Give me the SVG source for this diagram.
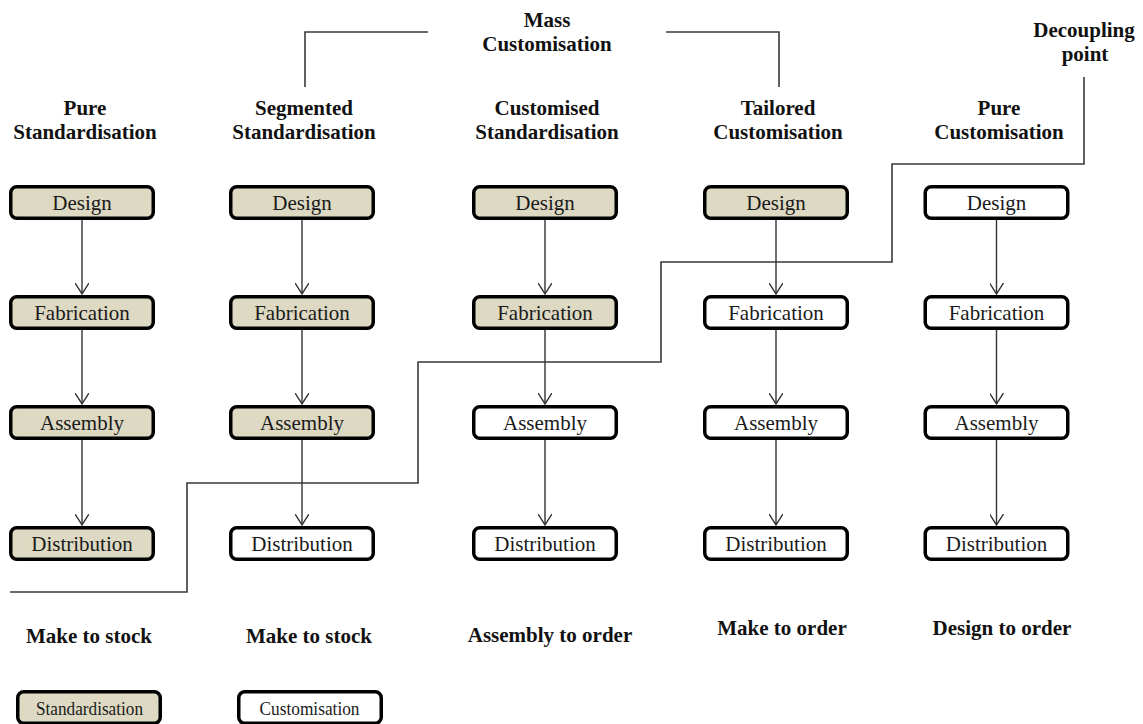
<svg xmlns="http://www.w3.org/2000/svg" width="1143" height="724" viewBox="0 0 1143 724">
  <style>
    .box rect { stroke: #000; stroke-width: 3.5; }
    .std rect { fill: #DDD9C3; }
    .cus rect { fill: #FFFFFF; }
    .box text { font-size: 21px; fill: #1a1a1a; text-anchor: middle; }
    .head { font-size: 21px; font-weight: bold; fill: #111; text-anchor: middle; }
    .legend text { font-size: 19px; }
    .flow { stroke: #333; stroke-width: 1.4; fill: none; }
    .guide { stroke: #3a3a3a; stroke-width: 1.6; fill: none; }
  </style>
  <defs>
    <marker id="arrow" markerWidth="18" markerHeight="14" refX="11" refY="7" orient="auto" markerUnits="userSpaceOnUse">
      <path d="M0,0 L11,7 L0,14" fill="none" stroke="#333" stroke-width="1.4"/>
    </marker>
  </defs>
  <rect width="1143" height="724" fill="#fff"/>

  <g font-family="'Liberation Serif', 'Times New Roman', Times, 'DejaVu Serif', serif">
  <!-- column headings -->
  <g id="headings">
    <text class="head" x="85" y="115">Pure</text>
    <text class="head" x="85" y="139">Standardisation</text>
    <text class="head" x="304" y="115">Segmented</text>
    <text class="head" x="304" y="139">Standardisation</text>
    <text class="head" x="547" y="115">Customised</text>
    <text class="head" x="547" y="139">Standardisation</text>
    <text class="head" x="778" y="115">Tailored</text>
    <text class="head" x="778" y="139">Customisation</text>
    <text class="head" x="999" y="115">Pure</text>
    <text class="head" x="999" y="139">Customisation</text>
    <text class="head" x="547" y="27">Mass</text>
    <text class="head" x="547" y="51">Customisation</text>
    <text class="head" x="1084" y="37">Decoupling</text>
    <text class="head" x="1085" y="61">point</text>
  </g>

  <!-- connectors -->
  <g id="connectors">
    <!-- Mass Customisation bracket -->
    <path class="guide" d="M305,87 V32 H428"/>
    <path class="guide" d="M666,32 H779 V87"/>
    <!-- decoupling point staircase -->
    <path class="guide" d="M1084,77 V164 H892 V262 H661 V362 H418 V483 H187 V592 H10"/>
    <!-- process flows -->
    <g marker-end="url(#arrow)">
      <line class="flow" x1="82" y1="220" x2="82" y2="294"/>
      <line class="flow" x1="82" y1="330" x2="82" y2="404"/>
      <line class="flow" x1="82" y1="440" x2="82" y2="525"/>
      <line class="flow" x1="302" y1="220" x2="302" y2="294"/>
      <line class="flow" x1="302" y1="330" x2="302" y2="404"/>
      <line class="flow" x1="302" y1="440" x2="302" y2="525"/>
      <line class="flow" x1="545" y1="220" x2="545" y2="294"/>
      <line class="flow" x1="545" y1="330" x2="545" y2="404"/>
      <line class="flow" x1="545" y1="440" x2="545" y2="525"/>
      <line class="flow" x1="776" y1="220" x2="776" y2="294"/>
      <line class="flow" x1="776" y1="330" x2="776" y2="404"/>
      <line class="flow" x1="776" y1="440" x2="776" y2="525"/>
      <line class="flow" x1="996.5" y1="220" x2="996.5" y2="294"/>
      <line class="flow" x1="996.5" y1="330" x2="996.5" y2="404"/>
      <line class="flow" x1="996.5" y1="440" x2="996.5" y2="525"/>
    </g>
  </g>

  <!-- Pure Standardisation -->
  <g id="ps-design" class="box std"><rect x="10.75" y="186.75" width="142.5" height="31.5" rx="6"/><text x="82" y="210">Design</text></g>
  <g id="ps-fabrication" class="box std"><rect x="10.75" y="296.75" width="142.5" height="31.5" rx="6"/><text x="82" y="320">Fabrication</text></g>
  <g id="ps-assembly" class="box std"><rect x="10.75" y="406.75" width="142.5" height="31.5" rx="6"/><text x="82" y="430">Assembly</text></g>
  <g id="ps-distribution" class="box std"><rect x="10.75" y="527.75" width="142.5" height="31.5" rx="6"/><text x="82" y="551">Distribution</text></g>

  <!-- Segmented Standardisation -->
  <g id="ss-design" class="box std"><rect x="230.75" y="186.75" width="142.5" height="31.5" rx="6"/><text x="302" y="210">Design</text></g>
  <g id="ss-fabrication" class="box std"><rect x="230.75" y="296.75" width="142.5" height="31.5" rx="6"/><text x="302" y="320">Fabrication</text></g>
  <g id="ss-assembly" class="box std"><rect x="230.75" y="406.75" width="142.5" height="31.5" rx="6"/><text x="302" y="430">Assembly</text></g>
  <g id="ss-distribution" class="box cus"><rect x="230.75" y="527.75" width="142.5" height="31.5" rx="6"/><text x="302" y="551">Distribution</text></g>

  <!-- Customised Standardisation -->
  <g id="cs-design" class="box std"><rect x="473.75" y="186.75" width="142.5" height="31.5" rx="6"/><text x="545" y="210">Design</text></g>
  <g id="cs-fabrication" class="box std"><rect x="473.75" y="296.75" width="142.5" height="31.5" rx="6"/><text x="545" y="320">Fabrication</text></g>
  <g id="cs-assembly" class="box cus"><rect x="473.75" y="406.75" width="142.5" height="31.5" rx="6"/><text x="545" y="430">Assembly</text></g>
  <g id="cs-distribution" class="box cus"><rect x="473.75" y="527.75" width="142.5" height="31.5" rx="6"/><text x="545" y="551">Distribution</text></g>

  <!-- Tailored Customisation -->
  <g id="tc-design" class="box std"><rect x="704.75" y="186.75" width="142.5" height="31.5" rx="6"/><text x="776" y="210">Design</text></g>
  <g id="tc-fabrication" class="box cus"><rect x="704.75" y="296.75" width="142.5" height="31.5" rx="6"/><text x="776" y="320">Fabrication</text></g>
  <g id="tc-assembly" class="box cus"><rect x="704.75" y="406.75" width="142.5" height="31.5" rx="6"/><text x="776" y="430">Assembly</text></g>
  <g id="tc-distribution" class="box cus"><rect x="704.75" y="527.75" width="142.5" height="31.5" rx="6"/><text x="776" y="551">Distribution</text></g>

  <!-- Pure Customisation -->
  <g id="pc-design" class="box cus"><rect x="925.25" y="186.75" width="142.5" height="31.5" rx="6"/><text x="996.5" y="210">Design</text></g>
  <g id="pc-fabrication" class="box cus"><rect x="925.25" y="296.75" width="142.5" height="31.5" rx="6"/><text x="996.5" y="320">Fabrication</text></g>
  <g id="pc-assembly" class="box cus"><rect x="925.25" y="406.75" width="142.5" height="31.5" rx="6"/><text x="996.5" y="430">Assembly</text></g>
  <g id="pc-distribution" class="box cus"><rect x="925.25" y="527.75" width="142.5" height="31.5" rx="6"/><text x="996.5" y="551">Distribution</text></g>

  <!-- order strategies -->
  <g id="strategies">
    <text class="head" x="89" y="643">Make to stock</text>
    <text class="head" x="309" y="643">Make to stock</text>
    <text class="head" x="550" y="642">Assembly to order</text>
    <text class="head" x="782" y="635">Make to order</text>
    <text class="head" x="1002" y="635">Design to order</text>
  </g>

  <!-- legend -->
  <g id="legend-standardisation" class="box std legend"><rect x="17.75" y="691.75" width="142.5" height="31.5" rx="6"/><text x="89.5" y="715" textLength="107" lengthAdjust="spacingAndGlyphs">Standardisation</text></g>
  <g id="legend-customisation" class="box cus legend"><rect x="238.75" y="691.75" width="142.5" height="31.5" rx="6"/><text x="309.5" y="715" textLength="100" lengthAdjust="spacingAndGlyphs">Customisation</text></g>
  </g>
</svg>
